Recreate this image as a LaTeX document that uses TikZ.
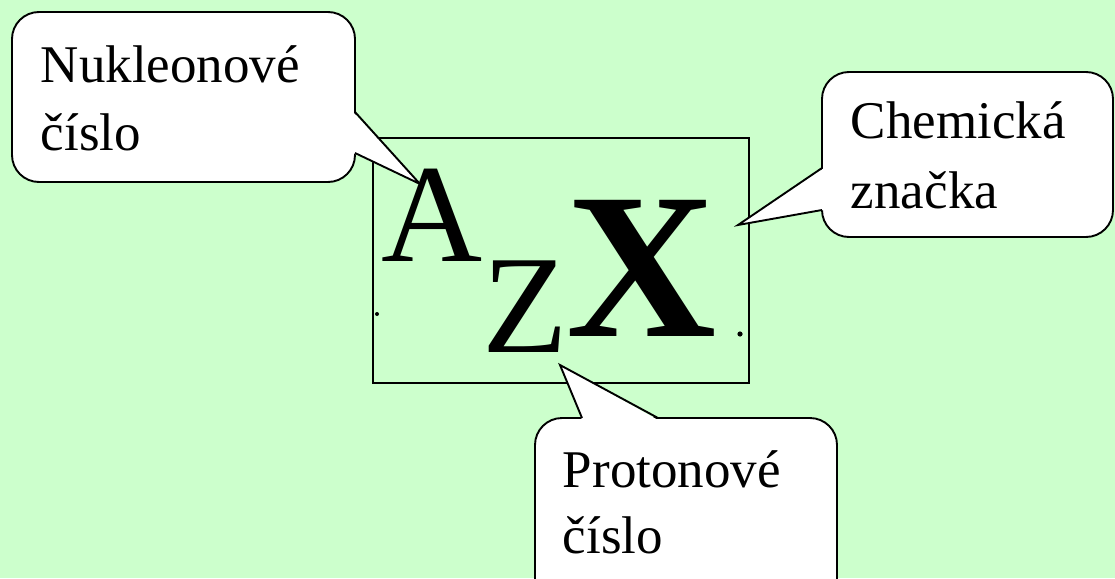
\documentclass[tikz,border=0pt]{standalone}
\usepackage{fontspec}
\setmainfont{Liberation Serif}
\definecolor{bg}{HTML}{CCFFCC}
\begin{document}
\begin{tikzpicture}[x=1pt,y=-1pt,line width=1.9pt,
  bubble/.style={draw=black,fill=white,rounded corners=27pt},
  lbl/.style={anchor=base west,inner sep=0pt,font=\fontsize{53}{64}\selectfont},
  big/.style={anchor=base west,inner sep=0pt,font=\fontsize{140}{150}\selectfont}]
\clip (0,0) rectangle (1115,578);
\fill[bg] (0,0) rectangle (1115,578);
% frame
\node[draw,anchor=north west,inner sep=0pt,minimum width=376pt,minimum height=245pt] (frame) at (372,137) {};
% symbol
\node[big] (A) at (381,261) {A};
\node[big] (Z) at (482,352) {Z};
\node[anchor=base west,inner sep=0pt,font=\fontsize{208}{220}\selectfont\bfseries] (X) at (566,336) {X};
\fill (377,314) circle (2pt);
\fill (740,334) circle (2.6pt);
% callout 1
\path[bubble] (12,12) rectangle (355,182);
\fill[white] (353,112) -- (420,184) -- (353,153) -- cycle;
\draw (355,112) -- (420,184) -- (355,153);
\node[lbl] (n1) at (40,82) {Nukleonové};
\node[lbl] (n2) at (40,150) {číslo};
% callout 2
\path[bubble] (822,72) rectangle (1113,237);
\fill[white] (824,168) -- (738,225) -- (824,210) -- cycle;
\draw (822,168) -- (738,225) -- (822,210);
\node[lbl] (c1) at (850,138) {Chemická};
\node[lbl] (c2) at (850,208) {značka};
% callout 3
\path[bubble] (535,418) rectangle (837,620);
\fill[white] (582,420) -- (560,365) -- (658,420) -- cycle;
\draw (582,418) -- (560,365) -- (658,418);
\node[lbl] (p1) at (562,487) {Protonové};
\node[lbl] (p2) at (562,553) {číslo};
\end{tikzpicture}
\end{document}
